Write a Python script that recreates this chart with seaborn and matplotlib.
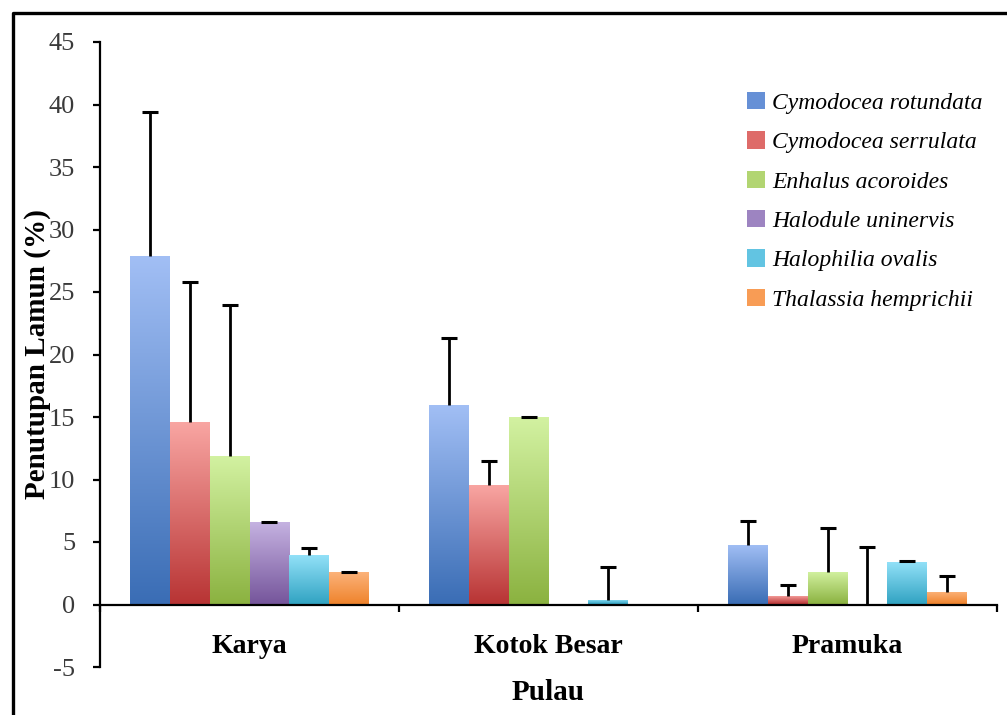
import matplotlib
matplotlib.use("Agg")
import matplotlib.pyplot as plt
import numpy as np
import pandas as pd
import seaborn as sns
from matplotlib.colors import LinearSegmentedColormap
from matplotlib.lines import Line2D
from matplotlib.patches import Patch

pulau = ["Karya", "Kotok Besar", "Pramuka"]
species = ["Cymodocea rotundata", "Cymodocea serrulata", "Enhalus acoroides",
           "Halodule uninervis", "Halophilia ovalis", "Thalassia hemprichii"]

# cover (%) per species, one value per island
cover = {
    "Cymodocea rotundata": [27.9, 16.0, 4.8],
    "Cymodocea serrulata": [14.6, 9.6, 0.7],
    "Enhalus acoroides": [11.9, 15.0, 2.6],
    "Halodule uninervis": [6.6, 0.0, 0.0],
    "Halophilia ovalis": [4.0, 0.4, 3.4],
    "Thalassia hemprichii": [2.6, 0.0, 1.0],
}
# upper error (SD)
err = {
    "Cymodocea rotundata": [11.5, 5.3, 1.9],
    "Cymodocea serrulata": [11.2, 1.9, 0.9],
    "Enhalus acoroides": [12.1, 0.0, 3.5],
    "Halodule uninervis": [0.0, 0.0, 4.6],
    "Halophilia ovalis": [0.5, 2.6, 0.1],
    "Thalassia hemprichii": [0.0, 0.0, 1.3],
}

# gradient colours: (top, bottom), legend uses mid
grads = [("#a2bff5", "#3a6db5"), ("#f9a6a3", "#b83434"), ("#d3f2a2", "#8bb240"),
         ("#c6b3e2", "#75559b"), ("#94e2f9", "#31a3c2"), ("#fcb47c", "#ef832c")]
mids = ["#6690d6", "#de6b69", "#b2d572", "#9d84c1", "#62c4e2", "#f89c55"]

rows = []
for s in species:
    for p, v in zip(pulau, cover[s]):
        rows.append({"pulau": p, "species": s, "value": v})
data = pd.DataFrame(rows)

plt.rcParams["axes.unicode_minus"] = False
serif = "Liberation Serif"
fig = plt.figure(figsize=(10.07, 7.15), dpi=100)
ax = fig.add_axes([100 / 1007, 48 / 715, 897 / 1007, 625 / 715])

sns.barplot(data=data, x="pulau", y="value", hue="species", order=pulau,
            hue_order=species, palette=mids, errorbar=None, width=0.8,
            legend=False, ax=ax, zorder=2)

# gradient fill + upper error bars per species container
for i, (s, cont) in enumerate(zip(species, ax.containers)):
    cmap = LinearSegmentedColormap.from_list(s, [grads[i][1], grads[i][0]])
    grad = np.linspace(0, 1, 256).reshape(-1, 1)
    for j, bar in enumerate(cont):
        x0, w, h = bar.get_x(), bar.get_width(), bar.get_height()
        bar.set_edgecolor("none")
        if h > 0:
            im = ax.imshow(grad, cmap=cmap, origin="lower", aspect="auto",
                           extent=[x0, x0 + w, 0, h], zorder=2.5)
            im.set_clip_path(bar)
        if h == 0 and err[s][j] == 0:
            continue
        eb = ax.errorbar(x0 + w / 2, h, yerr=[[0], [err[s][j]]], fmt="none",
                         ecolor="black", elinewidth=2.0, capsize=6, capthick=2.2,
                         zorder=3)
        eb.lines[1][0].remove()  # drop lower cap

ax.set_xlim(-0.5, 2.5)
ax.set_ylim(-5, 45)
ax.set_yticks(range(-5, 50, 5))

for side in ["top", "right"]:
    ax.spines[side].set_visible(False)
ax.spines["bottom"].set_position(("data", 0))
for side in ["left", "bottom"]:
    ax.spines[side].set_linewidth(1.6)
    ax.spines[side].set_color("black")

ax.set_xticks([0, 1, 2])
ax.set_xticklabels(pulau, fontfamily=serif, fontsize=20, fontweight="bold")
ax.set_xticks([-0.5, 0.5, 1.5, 2.5], minor=True)
ax.tick_params(axis="x", which="major", length=0, pad=21)
ax.tick_params(axis="x", which="minor", length=5, width=1.6, direction="out")
ax.tick_params(axis="y", length=5, width=1.6, labelsize=19, labelcolor="#3a3a3a", pad=13)
for lab in ax.get_yticklabels():
    lab.set_fontfamily(serif)

ax.set_xlabel("Pulau", fontfamily=serif, fontsize=21, fontweight="bold")
ax.xaxis.set_label_coords(0.5, -0.02)
ax.set_ylabel("Penutupan Lamun (%)", fontfamily=serif, fontsize=21, fontweight="bold")
ax.yaxis.set_label_coords(-0.055, 0.5)

handles = [Patch(facecolor=c, edgecolor="none") for c in mids]
ax.legend(handles, species, loc="upper left", frameon=False,
          bbox_to_anchor=(747 / 1007, 1 - 92 / 715), bbox_transform=fig.transFigure,
          prop={"family": serif, "style": "italic", "size": 17},
          handlelength=0.75, handleheight=0.75, handletextpad=0.3,
          labelspacing=0.74, borderpad=0, borderaxespad=0)

# outer frame (left + top edges)
fig.add_artist(Line2D([12.5 / 1007, 12.5 / 1007, 1.0], [0, 1 - 13 / 715, 1 - 13 / 715],
                      transform=fig.transFigure, color="black", linewidth=2.4))

fig.savefig("out.png", dpi=100)
